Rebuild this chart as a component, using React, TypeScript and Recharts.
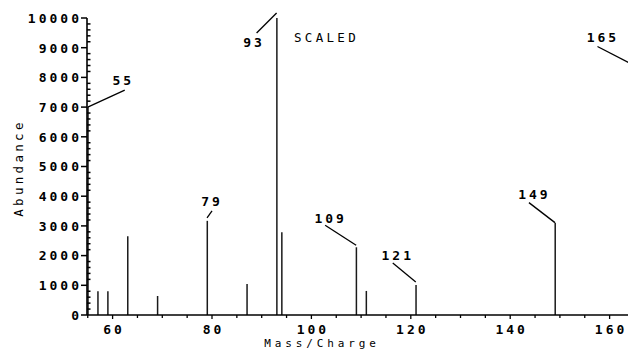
import React from 'react';
import { BarChart, Bar, XAxis, YAxis, ReferenceDot, Label } from 'recharts';

// Mass spectrum peaks (m/z) and abundances
const masses = [55, 57, 59, 63, 69, 79, 87, 93, 94, 109, 111, 121, 149, 165];
const abundances = [7000, 800, 800, 2650, 640, 3170, 1040, 10000, 2790, 2280, 810, 1010, 3110, 8400];

// Labelled peaks
const labelledMasses = [55, 79, 93, 109, 121, 149, 165];

// Leader layout relative to peak top: [x1, y1, x2, y2, textX, textY]
const labelLayout: number[][] = [
  [0, 0, 37, -17, 34, -27],
  [0, -3, 5, -10, 3.5, -19],
  [0, -5, -20, 15, -24, 24],
  [0, -2, -31, -22, -27, -29],
  [0, -3, -23, -22, -19.5, -30],
  [0, 0, -26, -20, -22, -28],
  [0, 0, -37, -19, -33, -28],
];

const xTicks = [55, 60, 65, 70, 75, 80, 85, 90, 95, 100, 105, 110, 115, 120, 125, 130, 135, 140, 145, 150, 155, 160];
const xTickLabels = [60, 80, 100, 120, 140, 160];
const yMajorTicks = [0, 1000, 2000, 3000, 4000, 5000, 6000, 7000, 8000, 9000, 10000];
const yTicks: number[] = [];
for (let v = 0; v <= 10000; v += 200) yTicks.push(v);

const data = masses.map((m, i) => ({ mass: m, abundance: abundances[i] }));

const FONT = '"DejaVu Sans Mono", monospace';
const textStyle = { fontFamily: FONT, fontSize: 13, fontWeight: 700, letterSpacing: 3 } as const;
const titleStyle = { fontFamily: FONT, fontSize: 12.5, fontWeight: 400, letterSpacing: 3.3 } as const;
const xTitleStyle = { fontFamily: FONT, fontSize: 11, fontWeight: 400, letterSpacing: 3.9 } as const;

const YTick = (props: any) => {
  const { x, y, payload } = props;
  const v = payload.value;
  if (yMajorTicks.includes(v)) {
    return (
      <g>
        <line x1={x - 6} y1={y} x2={x} y2={y} stroke="#000" strokeWidth={1.5} />
        <text x={x - 5} y={y + 4.8} textAnchor="end" fill="#000" style={textStyle}>{v}</text>
      </g>
    );
  }
  return <line x1={x} y1={y} x2={x + 3.5} y2={y} stroke="#000" strokeWidth={1.5} />;
};

const XTick = (props: any) => {
  const { x, y, payload } = props;
  const v = payload.value;
  const major = xTickLabels.includes(v);
  return (
    <g>
      <line x1={x} y1={y} x2={x} y2={y + (major ? 4 : 3)} stroke="#000" strokeWidth={1.3} />
      {major && (
        <text x={x + 1.5} y={y + 19} textAnchor="middle" fill="#000" style={textStyle}>{v}</text>
      )}
    </g>
  );
};

const makeLeader = (mass: number, layout: number[]) => (props: any) => {
  const { cx, cy } = props;
  const [x1, y1, x2, y2, tx, ty] = layout;
  return (
    <g>
      <line x1={cx + x1} y1={cy + y1} x2={cx + x2} y2={cy + y2} stroke="#000" strokeWidth={1.3} />
      <text x={cx + tx + 1.5} y={cy + ty + 4.5} textAnchor="middle" fill="#000" style={textStyle}>{mass}</text>
    </g>
  );
};

export default function App() {
  return (
    <div style={{ position: 'absolute', left: 0, top: 0, width: 628, height: 350, background: '#fff' }}>
      <BarChart
        width={628}
        height={350}
        data={data}
        margin={{ top: 18, right: 0, bottom: 0, left: 0 }}
      >
        <XAxis
          type="number"
          dataKey="mass"
          domain={[54.85, 163.7]}
          allowDataOverflow
          ticks={xTicks}
          interval={0}
          height={35}
          tickSize={0}
          tickMargin={0}
          tickLine={false}
          axisLine={{ stroke: '#000', strokeWidth: 1.6 }}
          tick={<XTick />}
        >
          <Label
            content={() => (
              <text x={322} y={347.3} textAnchor="middle" fill="#000" style={xTitleStyle}>
                Mass/Charge
              </text>
            )}
          />
        </XAxis>
        <YAxis
          type="number"
          domain={[0, 10000]}
          ticks={yTicks}
          interval={0}
          width={87}
          tickSize={0}
          tickMargin={0}
          tickLine={false}
          axisLine={{ stroke: '#000', strokeWidth: 1.6 }}
          tick={<YTick />}
        >
          <Label
            content={() => (
              <g>
                <text
                  x={0}
                  y={0}
                  transform="translate(22.5 168) rotate(-90)"
                  textAnchor="middle"
                  fill="#000"
                  style={titleStyle}
                >
                  Abundance
                </text>
                <text x={326.5} y={42} textAnchor="middle" fill="#000" style={titleStyle}>
                  SCALED
                </text>
              </g>
            )}
          />
        </YAxis>
        <Bar dataKey="abundance" fill="#1a1a1a" barSize={1.5} isAnimationActive={false} />
        {labelledMasses.map((m, i) => (
          <ReferenceDot
            key={m}
            x={m}
            y={abundances[masses.indexOf(m)]}
            r={0}
            ifOverflow="visible"
            shape={makeLeader(m, labelLayout[i])}
          />
        ))}
      </BarChart>
    </div>
  );
}
